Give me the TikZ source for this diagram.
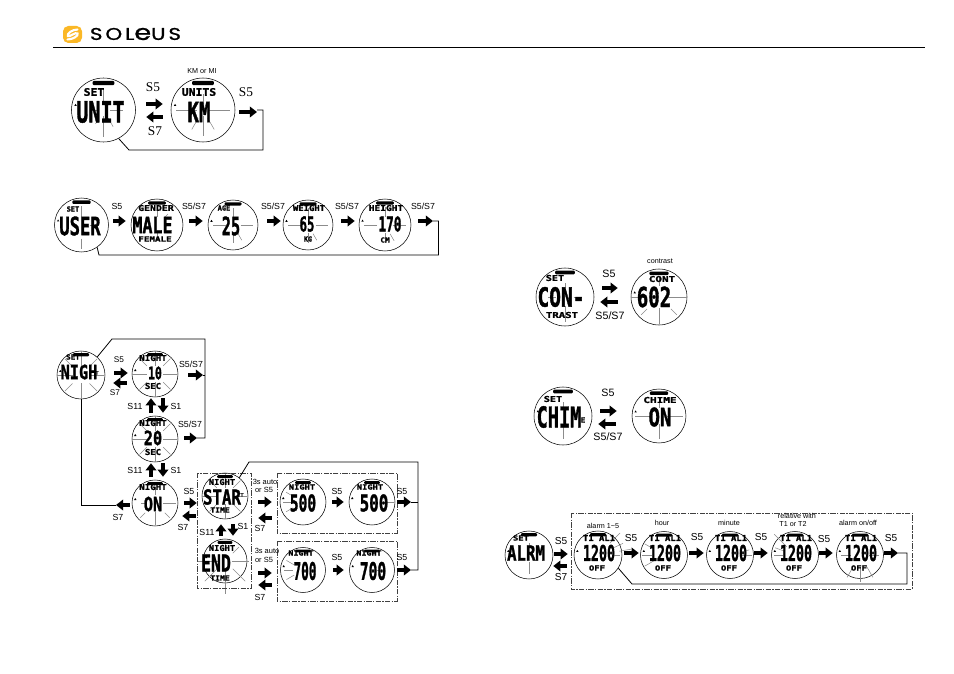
\documentclass[tikz,border=0pt]{standalone}
\usepackage{fontspec}
\usepackage{graphicx}
\usetikzlibrary{arrows.meta,calc}
\setmainfont{Liberation Sans}
\newfontfamily\capfont{Liberation Serif}
\newfontfamily\lcdfont{DejaVu Sans Mono Bold}[FakeBold=1.5]
\newfontfamily\logofont{Poppins}[FakeBold=1]
\newdimen\pxu \pxu=0.75pt
\newdimen\pxw \pxw=0.86pt
\newdimen\pxh \pxh=0.64pt
\definecolor{logoyellow}{HTML}{FBB826}
\definecolor{raygray}{gray}{0.55}
\tikzset{
  watchface/.style={circle,draw=black,line width=0.4pt,inner sep=0pt,fill=white},
  lcdtext/.style={inner sep=0pt,font=\lcdfont},
  tiny label/.style={inner sep=0pt,font=\fontsize{5.4pt}{6pt}\selectfont},
  small key/.style={inner sep=0pt,font=\fontsize{6.6pt}{8pt}\selectfont},
  night key/.style={inner sep=0pt,font=\fontsize{6.2pt}{7pt}\selectfont},
  auto key/.style={inner sep=0pt,font=\fontsize{5.6pt}{6.5pt}\selectfont},
  large key/.style={inner sep=0pt,font=\fontsize{8pt}{10pt}\selectfont},
  alarm key/.style={inner sep=0pt,font=\fontsize{7.6pt}{9pt}\selectfont},
  serif key/.style={inner sep=0pt,font=\capfont\fontsize{10pt}{11pt}\selectfont},
  blockarrow/.style={line width=3.3pt,-{Triangle[length=5.4pt,width=8pt]}},
  wire/.style={line width=0.6pt,black},
  group frame/.style={draw=black!75,line width=0.55pt,dash pattern=on 4pt off 1pt on 1pt off 1pt},
}
% A watch face: name, centre x, centre y, radius, list of hand marks angle/from/to.
\newcommand\watch[5]{%
  \node[watchface,minimum size={#4*1.5pt}] (#1) at (#2,#3) {};
  \foreach \a/\p/\q in #5 {
    \pgfmathsetmacro\rin{\p*#4}\pgfmathsetmacro\rout{\q*#4}
    \draw[raygray,line width=0.4pt] ($(#1.center)+(\a:\rin)$) -- ($(#1.center)+(\a:\rout)$);
  }
  \fill[black,rounded corners=0.8pt] ($(#1.center)+({-0.34*#4},{-0.91*#4})$) rectangle ($(#1.center)+({0.34*#4},{-0.78*#4})$);
  \fill[black] ($(#1.center)+({-0.91*#4},{-0.13*#4})$) -- ++(1.2,-2) -- ++(1.2,2) -- cycle;
}
% Blocky display text: parent, suffix, offset x, offset y, width, height, text.
\newcommand\lcd[7]{%
  \node[lcdtext] (#1#2) at ($(#1.center)+(#3,#4)$) {\resizebox{#5\pxw}{#6\pxh}{#7}};
}
% Block arrows between neighbours: from, to, y or x position, gap at one end, gap at the other.
\newcommand\across[5]{%
  \draw[blockarrow,shorten <={#4*0.75pt},shorten >={#5*0.75pt}]
    (#1.east |- 0,#3) -- (#2.west |- 0,#3);
}
\newcommand\backacross[5]{%
  \draw[blockarrow,shorten <={#5*0.75pt},shorten >={#4*0.75pt}]
    (#2.west |- 0,#3) -- (#1.east |- 0,#3);
}
\newcommand\downward[5]{%
  \draw[blockarrow,shorten <={#4*0.75pt},shorten >={#5*0.75pt}]
    ($(#1.south)+(#3,0)$) -- ($(#2.north)+(#3,0)$);
}
\newcommand\upward[5]{%
  \draw[blockarrow,shorten <={#5*0.75pt},shorten >={#4*0.75pt}]
    ($(#2.north)+(#3,0)$) -- ($(#1.south)+(#3,0)$);
}
\def\raysB{0/.35/.95,180/.35/.98,90/.35/.98,270/.35/.98,45/.5/.95,135/.5/.95,225/.5/.95,315/.5/.95}
\def\raysC{0/.3/.8,180/.3/.8,60/.4/.7,90/.3/.7,270/.3/.7}
\def\raysNone{0/.2/.3}
\begin{document}
\begin{tikzpicture}[x=0.75pt,y=-0.75pt]
\useasboundingbox (0,0) rectangle (954,674);
\fill[white] (0,0) rectangle (954,674);

% Page header
\fill[logoyellow,rounded corners=4pt] (63,26) rectangle (82,43);
\draw[white,line width=1.6pt,line cap=round] (77.5,29.5) .. controls (72,29.5) and (66.5,34) .. (68,36) .. controls (69,37.5) and (76,31.5) .. (77.5,33.5) .. controls (79,35.5) and (73,39.5) .. (67.5,39.5);
\node[inner sep=0pt,font=\logofont] (brand) at (135.5,34) {\resizebox{91\pxu}{12\pxu}{\addfontfeatures{LetterSpace=14}SOL\scalebox{1.27}{e}US}};
\coordinate (ruleL) at (53,47); \coordinate (ruleR) at (925,47);
\draw[black,line width=0.7pt] (ruleL) -- (ruleR);

% Units
\watch{unit}{103.5}{110}{32}{{0/.2/.6,270/.2/.7,90/.2/.85,180/.2/.4,60/.3/.6,120/.3/.5}}
\lcd{unit}{a}{-9.5}{-18}{18}{9}{SET}
\lcd{unit}{b}{-3}{2}{42}{25}{UNIT}
\watch{km}{203}{110}{32}{{0/.2/.85,180/.2/.85,90/.2/.8,60/.3/.7,120/.3/.7,270/.2/.5}}
\lcd{km}{a}{-4}{-18}{30}{9}{UNITS}
\lcd{km}{b}{-4}{2}{20}{24}{KM}
\node[tiny label] (kmnote) at (202,71) {KM or MI};
\node[serif key] (un1) at (153,87) {S5};
\node[serif key] (un2) at (155,131) {S7};
\node[serif key] (un3) at (246,92) {S5};
\across{unit}{km}{104}{10.5}{8}
\backacross{unit}{km}{117}{10.5}{8}
\coordinate (unitEnd) at (263,110);
\coordinate (unitTurn) at (263,150);
\coordinate (unitBase) at (129,150);
\draw[blockarrow,shorten <={4*0.75pt}] (km.east |- 0,112) -- (257,112);
\draw[wire] (257,110) -- (unitEnd) -- (unitTurn) -- (unitBase) -- (unit.-62);

% User data
\watch{usr}{81.5}{225}{27}{{270/.3/.7,90/.5/.9,0/.3/.5}}
\lcd{usr}{a}{-8.5}{-16}{11}{6}{SET}
\lcd{usr}{b}{-1.5}{1}{36}{22}{USER}
\watch{gen}{157}{225}{26}{{270/.3/.6,90/.3/.6,315/.4/.6}}
\lcd{gen}{a}{-1}{-17}{31}{7}{GENDER}
\lcd{gen}{b}{-4.5}{0}{35}{19}{MALE}
\lcd{gen}{c}{-2}{14}{29}{6}{FEMALE}
\watch{age}{233}{225}{25}{\raysC}
\lcd{age}{a}{-9}{-17}{11}{6}{AGE}
\lcd{age}{b}{-2}{1}{16}{22}{25}
\watch{wgt}{308}{225}{25}{\raysC}
\lcd{wgt}{a}{1}{-17}{28}{7}{WEIGHT}
\lcd{wgt}{b}{-1}{-1}{13}{18}{65}
\lcd{wgt}{c}{0}{14}{7}{6}{KG}
\watch{hgt}{385}{225}{26}{\raysC}
\lcd{hgt}{a}{1}{-17}{30}{7}{HEIGHT}
\lcd{hgt}{b}{5}{-1}{20}{18}{170}
\lcd{hgt}{c}{0}{15}{8}{6}{CM}
\node[small key] (us1) at (117,206) {S5};
\node[small key] (us2) at (194,206) {S5/S7};
\node[small key] (us3) at (273,206) {S5/S7};
\node[small key] (us4) at (347,206) {S5/S7};
\node[small key] (us5) at (423,206) {S5/S7};
\across{usr}{gen}{221}{4.5}{5}
\across{gen}{age}{221}{6}{5}
\across{age}{wgt}{221}{9}{2}
\across{wgt}{hgt}{221}{8}{4}
\coordinate (userEnd) at (438.5,221);
\coordinate (userTurn) at (438.5,255);
\coordinate (userBase) at (99,255);
\draw[blockarrow,shorten <={7*0.75pt}] (hgt.east |- 0,221) -- (433,221);
\draw[wire] (433,221) -- (userEnd) -- (userTurn) -- (userBase) -- (usr.-55);

% Night light
\watch{nset}{81}{375}{24}{\raysB}
\lcd{nset}{a}{-8}{-18}{12}{6}{SET}
\lcd{nset}{b}{-2}{-3}{32}{17}{NIGH}
\lcd{nset}{c}{16}{-2}{3}{4}{T}
\watch{n10}{155}{374}{23}{\raysB}
\lcd{n10}{a}{-2}{-16}{24}{7}{NIGHT}
\lcd{n10}{b}{0}{-1}{12}{15}{10}
\lcd{n10}{c}{-2}{12}{14}{7}{SEC}
\watch{n20}{155}{439}{23}{\raysB}
\lcd{n20}{a}{-2}{-16}{24}{7}{NIGHT}
\lcd{n20}{b}{-2}{-1}{16}{17}{20}
\lcd{n20}{c}{-2}{13}{14}{7}{SEC}
\watch{non}{155}{503}{23}{{0/.35/.9,180/.35/.6,90/.4/.95,270/.35/.7,135/.6/.9,45/.6/.9}}
\lcd{non}{a}{-2}{-16}{24}{7}{NIGHT}
\lcd{non}{b}{-2}{1}{16}{17}{ON}
\watch{nstart}{225}{496}{23}{\raysB}
\lcd{nstart}{a}{-3}{-14}{23}{7}{NIGHT}
\lcd{nstart}{b}{-3}{1}{33}{18}{STAR}
\lcd{nstart}{c}{17}{-1}{3}{4}{T}
\lcd{nstart}{d}{-5}{14}{17}{6}{TIME}
\watch{nend}{225}{561}{22}{{180/.3/1.25,0/.3/1.1,90/.4/1.5,270/.5/.9,45/.5/1.3,135/.5/1.3,315/.5/.9}}
\lcd{nend}{a}{-3}{-13}{23}{7}{NIGHT}
\lcd{nend}{b}{-9}{2}{26}{20}{END}
\lcd{nend}{d}{-5}{17}{17}{6}{TIME}
\watch{sa}{303}{502}{23}{{180/.5/.85,150/.5/.85,210/.5/.85}}
\lcd{sa}{a}{-1}{-15}{23}{6}{NIGHT}
\lcd{sa}{b}{0}{1}{23}{20}{500}
\watch{sb}{372}{502}{23}{{0/.5/.95,345/.5/.7}}
\lcd{sb}{a}{-2}{-15}{23}{6}{NIGHT}
\lcd{sb}{b}{2}{1}{25}{20}{500}
\watch{ea}{303}{570}{22.5}{{180/.45/.85,150/.45/.85,210/.45/.85}}
\lcd{ea}{a}{-2}{-17}{22}{6}{NIGHT}
\lcd{ea}{b}{2}{1}{20}{21}{700}
\watch{eb}{372}{570}{22.5}{\raysNone}
\lcd{eb}{a}{-3}{-17}{22}{6}{NIGHT}
\lcd{eb}{b}{1}{1}{23}{21}{700}
\draw[group frame] (197,473) rectangle (251,588);
\draw[group frame] (277,473) rectangle (397,533);
\draw[group frame] (277,541) rectangle (397,601);
\node[night key] (ns1) at (119,360) {S5};
\node[night key] (ns2) at (115,393) {S7};
\node[small key] (ns3) at (191,364) {S5/S7};
\node[small key] (ns4) at (135,406) {S11};
\node[small key] (ns5) at (176,406) {S1};
\node[small key] (ns6) at (190,424) {S5/S7};
\node[small key] (ns7) at (135,470) {S11};
\node[small key] (ns8) at (176,470) {S1};
\node[small key] (ns9) at (118,517) {S7};
\node[small key] (ns10) at (189,491) {S5};
\node[small key] (ns11) at (183,527) {S7};
\node[small key] (ns12) at (207,532) {S11};
\node[small key] (ns13) at (243,526) {S1};
\node[auto key] (ns14) at (265,482) {3s auto};
\node[auto key] (ns15) at (264,490) {or S5};
\node[small key] (ns16) at (260,528) {S7};
\node[small key] (ns17) at (337,491) {S5};
\node[small key] (ns18) at (402,491) {S5};
\node[auto key] (ns19) at (267,551) {3s auto};
\node[auto key] (ns20) at (264,560) {or S5};
\node[small key] (ns21) at (260,597) {S7};
\node[small key] (ns22) at (337,557) {S5};
\node[small key] (ns23) at (402,557) {S5};
% Block arrows of the night light sequence
\across{nset}{n10}{373}{9}{4}
\backacross{nset}{n10}{383}{8}{5}
\downward{n10}{n20}{8}{1}{3}
\upward{n10}{n20}{-4}{1}{3}
\downward{n20}{non}{8}{1}{3}
\upward{n20}{non}{-4}{1}{3}
\coordinate (nLeftTip) at (116,505);
\draw[blockarrow,shorten <={2*0.75pt}] (non.west |- nLeftTip) -- (nLeftTip);
\across{non}{nstart}{503}{6}{5}
\backacross{non}{nstart}{516}{4}{6}
\downward{nstart}{nend}{8}{5}{3}
\upward{nstart}{nend}{-4}{5}{3}
\across{nstart}{sa}{502}{10}{8}
\backacross{nstart}{sa}{518}{10}{8}
\across{nend}{ea}{573}{11}{8.5}
\backacross{nend}{ea}{585}{11}{8.5}
\across{sa}{sb}{502}{6}{5}
\across{ea}{eb}{570}{7}{5.5}
% Return wires of the night light sequence
\coordinate (nTopL) at (112,339);
\coordinate (nTopR) at (205,339);
\coordinate (nMid) at (205,438);
\coordinate (nLow) at (81,505);
\coordinate (nHi) at (249,462);
\coordinate (nHiR) at (418,462);
\coordinate (nLoR) at (418,570);
\coordinate (nTip1) at (203,375);
\coordinate (nTip2) at (197,438);
\coordinate (nTip3) at (411,502);
\coordinate (nTip4) at (411,570);
\draw[blockarrow,shorten <={10*0.75pt}] (n10.east |- nTip1) -- (nTip1);
\draw[blockarrow,shorten <={6*0.75pt}] (n20.east |- nTip2) -- (nTip2);
\draw[blockarrow,shorten <={2*0.75pt}] (sb.east |- nTip3) -- (nTip3);
\draw[blockarrow,shorten <={2*0.75pt}] (eb.east |- nTip4) -- (nTip4);
\draw[wire] (nset.48) -- (nTopL) -- (nTopR) -- (nMid) -- (nTip2);
\draw[wire] (nTip1) -- (205,375);
\draw[wire] (nset.south) -- (nLow) -- (nLeftTip);
\draw[wire] (nstart.52) -- (nHi) -- (nHiR) -- (nLoR) -- (nTip4);
\draw[wire] (nTip3) -- (418,502);

% Contrast
\watch{cs}{565}{297}{29}{{0/.3/.6,180/.3/.6,90/.3/.85,270/.3/.5}}
\lcd{cs}{a}{-10}{-19}{16}{7}{SET}
\lcd{cs}{b}{-4}{0}{41}{23}{CON-}
\lcd{cs}{c}{-3}{18}{28}{7}{TRAST}
\watch{cv}{659}{297}{28}{{0/.3/1,180/.5/1,90/.4/.95,270/.4/.7,45/.6/.9,135/.6/.9}}
\lcd{cv}{a}{3}{-18}{23}{7}{CONT}
\lcd{cv}{b}{-5}{0}{30}{24}{602}
\node[tiny label] (cnote) at (660,261) {contrast};
\node[large key] (ck1) at (609,274) {S5};
\node[large key] (ck2) at (610,316) {S5/S7};
\across{cs}{cv}{288}{8}{13}
\backacross{cs}{cv}{302}{6}{13}

% Chime
\watch{hs}{563}{416}{29}{{90/.3/.8,270/.3/.5}}
\lcd{hs}{a}{-10}{-17}{16}{7}{SET}
\lcd{hs}{b}{-4}{1}{39}{25}{CHIM}
\lcd{hs}{c}{20}{4}{4}{6}{E}
\watch{hv}{659}{416}{27}{{0/.3/.9,180/.3/.9,270/.3/.7,90/.3/.85}}
\lcd{hv}{a}{1}{-16}{29}{7}{CHIME}
\lcd{hv}{b}{1}{1}{20}{22}{ON}
\node[large key] (hk1) at (608,393) {S5};
\node[large key] (hk2) at (608,437) {S5/S7};
\across{hs}{hv}{411}{8}{15}
\backacross{hs}{hv}{424}{6}{16}

% Alarm
\watch{as}{529}{555}{24}{{90/.3/.8,270/.3/.5}}
\lcd{as}{a}{-8}{-17}{14}{6}{SET}
\lcd{as}{b}{-3}{-2}{33}{18}{ALRM}
\draw[group frame,line width=0.75pt] (571,513) rectangle (912,589);
\watch{a1}{598}{555}{24}{{315/.7/1.3,335/.7/1.15,350/.9/1.4,0/.6/.9}}
\watch{a2}{664}{555}{23.5}{{180/.5/.95,150/.5/.95,210/.5/.95}}
\watch{a3}{730}{555}{23.5}{{0/.5/.95,345/.5/.85}}
\watch{a4}{795}{555}{23.5}{{225/.5/1.25,180/.5/.9,200/.5/.9}}
\watch{a5}{860}{555}{23.5}{{90/.5/1.15,60/.5/1.1,120/.5/1.1,0/.4/.8,180/.4/.8}}
\foreach \w in {a1,a2,a3,a4,a5} {
  \lcd{\w}{a}{1}{-17}{28}{7}{T1 AL1}
  \lcd{\w}{b}{1}{-2}{28}{19}{1200}
  \lcd{\w}{c}{-1}{13}{14}{6}{OFF}
}
\node[tiny label] (an1) at (603,526) {alarm 1\textasciitilde5};
\node[tiny label] (an2) at (662,523) {hour};
\node[tiny label] (an3) at (729,523) {minute};
\node[tiny label] (an4) at (797,516) {relative with};
\node[tiny label] (an5) at (793,524) {T1 or T2};
\node[tiny label] (an6) at (858,523) {alarm on/off};
\node[alarm key] (ak0) at (561,541) {S5};
\node[alarm key] (ak1) at (561,577) {S7};
\node[alarm key] (ak2) at (631,538) {S5};
\node[alarm key] (ak3) at (697,537) {S5};
\node[alarm key] (ak4) at (761,537) {S5};
\node[alarm key] (ak5) at (824,539) {S5};
\node[alarm key] (ak6) at (891,538) {S5};
\across{as}{a1}{554}{1}{6}
\backacross{as}{a1}{566}{0}{7}
\across{a1}{a2}{553}{2}{1.5}
\across{a2}{a3}{553}{1.5}{2.5}
\across{a3}{a4}{553}{0.5}{3.5}
\across{a4}{a5}{553}{0}{3.5}
\coordinate (aTip) at (898,553);
\coordinate (aRight) at (907,553);
\coordinate (aLow) at (907,584);
\coordinate (aBase) at (632,584);
\draw[blockarrow] (a5.east |- aTip) -- (aTip);
\draw[wire] (aTip) -- (aRight) -- (aLow) -- (aBase) -- (a1.-33);
\end{tikzpicture}
\end{document}
